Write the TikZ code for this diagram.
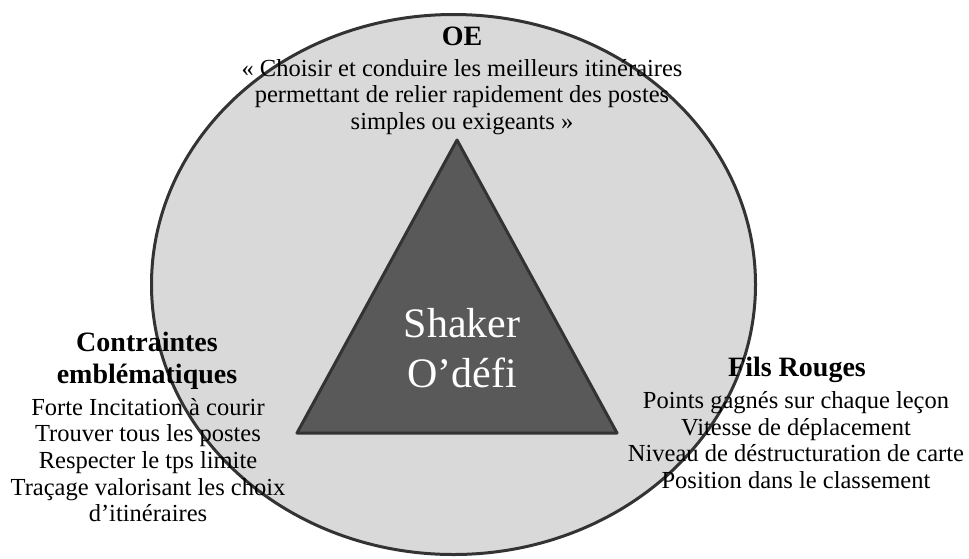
\documentclass[tikz,border=0pt]{standalone}
\usepackage{fontspec}
\setmainfont{Liberation Serif}
\usetikzlibrary{shapes.geometric}
\tikzset{
  titre/.style={align=center, inner sep=0pt, font=\fontsize{28}{32}\selectfont\bfseries},
  liste/.style={align=center, inner sep=0pt, font=\fontsize{24.5}{26.7}\selectfont},
}

\begin{document}
\begin{tikzpicture}[x=1pt, y=-1pt]
        \useasboundingbox (0,0) rectangle (969,558);

        \node[ellipse, draw=black!80, fill=black!15, line width=3pt, inner sep=0pt, minimum width=604pt, minimum height=540pt] (terrain) at (453.5,284.5) {};

        \coordinate (sommet) at (457,140);
        \coordinate (gauche) at (297,433);
        \coordinate (droite) at (617,433);
        \draw[draw=black!80, fill=black!65, line width=3pt, line join=round] (sommet) -- (gauche) -- (droite) -- cycle;
        \node[align=center, text=white, font=\fontsize{42}{50}\selectfont] (shaker) at (462,348) {Shaker\\O’défi};

        \node[titre] (oe) at (462,36) {OE};
        \node[liste] (oeTexte) at (462,97) {«~Choisir et conduire les meilleurs itinéraires\\permettant de relier rapidement des postes\\simples ou exigeants~»};

        \node[titre] (contraintes) at (147,361) {Contraintes\\emblématiques};
        \node[liste] (contraintesListe) at (148,460) {Forte Incitation à courir\\Trouver tous les postes\\Respecter le tps limite\\Traçage valorisant les choix\\d’itinéraires};

        \node[titre] (filsRouges) at (797,370) {Fils Rouges};
        \node[liste] (filsRougesListe) at (796,440) {Points gagnés sur chaque leçon\\Vitesse de déplacement\\Niveau de déstructuration de carte\\Position dans le classement};
    \end{tikzpicture}
\end{document}
